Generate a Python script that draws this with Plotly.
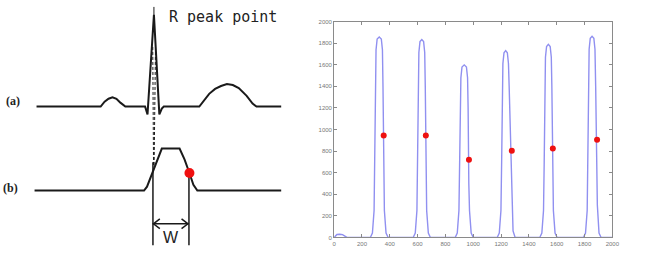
import plotly.graph_objects as go

# ---------------- Left schematic (pixel-like coordinates) ----------------
ecg_a_x = [35, 100, 104, 108, 112, 116, 120, 125, 145, 147.5, 154, 159.5, 162, 164,
           200, 205, 210, 216, 222, 228, 234, 240, 248, 254, 258, 283]
ecg_a_y = [106, 106, 101, 98, 96.5, 98, 102, 106, 106, 114, 12, 114, 108, 106,
           106, 99, 93, 88, 85, 83, 84, 87, 95, 103, 106, 106]
ecg_b_x = [33, 144, 147, 150, 156, 162, 180, 185, 190, 194, 198, 283]
ecg_b_y = [192, 192, 188, 180, 164, 149, 149, 160, 174, 186, 192, 192]
rpeak_dash1_x = [152.8, 153.6]
rpeak_dash1_y = [45, 166]
rpeak_dash2_x = [155.6, 154.2]
rpeak_dash2_y = [45, 166]
rpeak_top_x = [154, 154]
rpeak_top_y = [4, 14]
wline_left_x = [153, 153]
wline_left_y = [163, 248]
wline_right_x = [189.5, 189.5]
wline_right_y = [174, 248]
arrow_x = [153, 189]
arrow_y = [226, 226]
chev_l_x = [160, 153.5, 160]
chev_l_y = [221, 226, 231]
chev_r_x = [182, 188.5, 182]
chev_r_y = [221, 226, 231]
marker_b = (190, 174)

# ---------------- Right plot data ----------------
signal_x = [0, 8, 20, 40, 60, 80, 92,
            260, 275, 287, 292, 295, 297, 301, 309, 324, 339, 347, 351, 353, 356, 361, 373, 388,
            568, 583, 595, 600, 603, 605, 609, 617, 630, 643, 651, 655, 657, 660, 665, 677, 692,
            870, 885, 897, 902, 905, 907, 911, 919, 935, 951, 959, 963, 965, 968, 973, 985, 1000,
            1172, 1187, 1199, 1204, 1207, 1209, 1213, 1221, 1233, 1245, 1253, 1258, 1264, 1269, 1274, 1286, 1301,
            1478, 1493, 1505, 1510, 1513, 1515, 1519, 1527, 1540, 1553, 1561, 1565, 1568, 1571, 1576, 1588, 1603,
            1792, 1807, 1819, 1824, 1827, 1829, 1833, 1841, 1854, 1867, 1875, 1880, 1884, 1887, 1892, 1904, 1919,
            2000]
signal_y = [0, 15, 28, 30, 26, 10, 0,
            0, 40, 250, 700, 1100, 1500, 1738, 1838, 1858, 1838, 1738, 1400, 950, 600, 250, 40, 0,
            0, 40, 250, 700, 1100, 1500, 1714, 1814, 1834, 1814, 1714, 1400, 950, 600, 250, 40, 0,
            0, 40, 250, 700, 1100, 1400, 1479, 1579, 1599, 1579, 1479, 1200, 730, 500, 250, 40, 0,
            0, 40, 250, 700, 1100, 1500, 1611, 1711, 1731, 1711, 1611, 1400, 1100, 800, 400, 60, 0,
            0, 40, 250, 700, 1100, 1500, 1669, 1769, 1789, 1769, 1669, 1400, 950, 600, 250, 40, 0,
            0, 40, 250, 700, 1100, 1500, 1744, 1844, 1864, 1844, 1744, 1400, 1000, 650, 300, 40, 0,
            0]
dot_x = [356, 659, 969, 1277, 1572, 1890]
dot_y = [944, 944, 721, 803, 824, 905]
tick_vals = [0, 200, 400, 600, 800, 1000, 1200, 1400, 1600, 1800, 2000]
tick_text = [str(v) for v in tick_vals]

W, H = 668, 260
fig = go.Figure()

black = "#1a1a1a"
def ln(x, y, width=2, dash=None):
    fig.add_trace(go.Scatter(x=x, y=y, mode="lines", xaxis="x", yaxis="y",
                             line=dict(color=black, width=width, dash=dash),
                             hoverinfo="skip", showlegend=False))

ln(ecg_a_x, ecg_a_y, 2)
ln(ecg_b_x, ecg_b_y, 2)
ln(rpeak_dash1_x, rpeak_dash1_y, 1, "3px,2px")
ln(rpeak_dash2_x, rpeak_dash2_y, 1, "3px,2px")
ln(rpeak_top_x, rpeak_top_y, 1)
ln(wline_left_x, wline_left_y, 1.5)
ln(wline_right_x, wline_right_y, 1.5)
ln(arrow_x, arrow_y, 1.5)
ln(chev_l_x, chev_l_y, 1.5)
ln(chev_r_x, chev_r_y, 1.5)
fig.add_trace(go.Scatter(x=[marker_b[0]], y=[marker_b[1]], mode="markers", xaxis="x", yaxis="y",
                         marker=dict(color="#f01010", size=10), showlegend=False, hoverinfo="skip"))

fig.add_trace(go.Scatter(x=signal_x, y=signal_y, mode="lines", xaxis="x2", yaxis="y2",
                         line=dict(color="#9090f0", width=1.4), showlegend=False))
fig.add_trace(go.Scatter(x=dot_x, y=dot_y, mode="markers", xaxis="x2", yaxis="y2",
                         marker=dict(color="#ee1111", size=6), showlegend=False))

annos = [
    dict(x=167, y=14, text="R peak point", xanchor="left", yanchor="middle",
         font=dict(family="DejaVu Sans Mono", size=15, color="#222")),
    dict(x=171, y=240, text="W", xanchor="center", yanchor="middle",
         font=dict(family="Liberation Sans", size=16, color="#222")),
    dict(x=11, y=100, text="<b>(a)</b>", xanchor="center", yanchor="middle",
         font=dict(family="Liberation Serif", size=12, color="#222")),
    dict(x=9, y=189, text="<b>(b)</b>", xanchor="center", yanchor="middle",
         font=dict(family="Liberation Serif", size=12, color="#222")),
]
for a in annos:
    a.update(xref="x", yref="y", showarrow=False)

axis_common = dict(showline=True, linecolor="#8a8a8a", linewidth=1, mirror="ticks",
                   ticks="inside", ticklen=3, tickcolor="#8a8a8a", showgrid=False,
                   zeroline=False, tickfont=dict(size=6, color="#777", family="Liberation Sans"),
                   tickvals=tick_vals, ticktext=tick_text)

fig.update_layout(
    width=W, height=H, margin=dict(l=0, r=0, t=0, b=0),
    paper_bgcolor="white", plot_bgcolor="white",
    annotations=annos,
    xaxis=dict(domain=[0, 300 / W], range=[0, 300], visible=False),
    yaxis=dict(domain=[0, 1], range=[260, 0], visible=False),
    xaxis2=dict(domain=[336.7 / W, 618.7 / W], range=[0, 2000], anchor="y2", **axis_common),
    yaxis2=dict(domain=[20 / H, 241 / H], range=[0, 2000], anchor="x2", **axis_common),
)

fig.write_html("out.html")
